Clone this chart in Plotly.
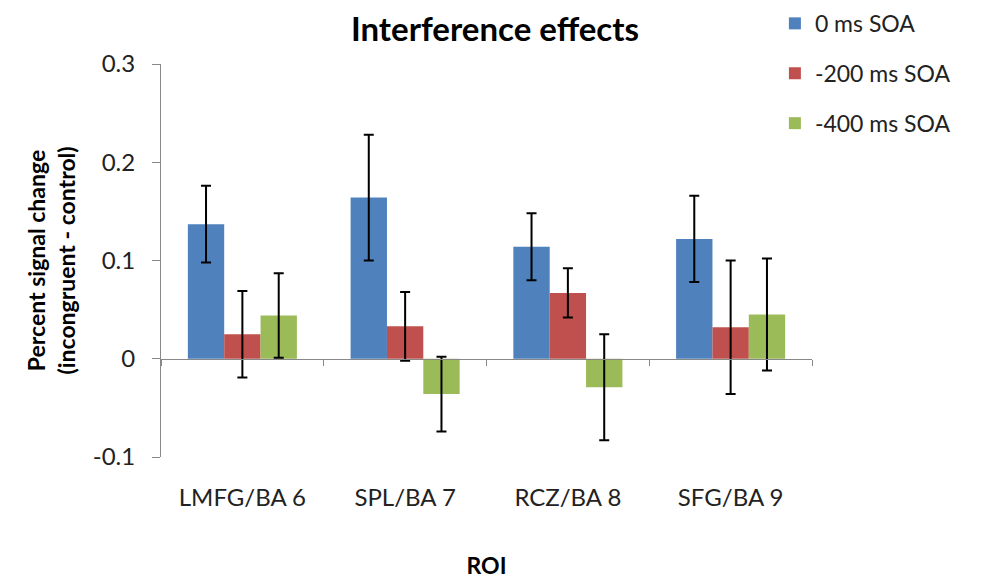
import plotly.graph_objects as go

rois = ["LMFG/BA 6", "SPL/BA 7", "RCZ/BA 8", "SFG/BA 9"]

soa_0 = [0.137, 0.164, 0.114, 0.122]
soa_0_err = [0.039, 0.064, 0.034, 0.044]

soa_200 = [0.025, 0.033, 0.067, 0.032]
soa_200_err = [0.044, 0.035, 0.025, 0.068]

soa_400 = [0.044, -0.036, -0.029, 0.045]
soa_400_err = [0.043, 0.038, 0.054, 0.057]

series = [
    ("0 ms SOA", soa_0, soa_0_err, "#4F81BD"),
    ("-200 ms SOA", soa_200, soa_200_err, "#C0504D"),
    ("-400 ms SOA", soa_400, soa_400_err, "#9BBB59"),
]

FONT = "Lato, 'Open Sans', sans-serif"

fig = go.Figure()
for name, vals, errs, color in series:
    fig.add_trace(go.Bar(
        name=name,
        x=rois,
        y=vals,
        marker_color=color,
        marker_line_width=0,
        legendgroup=name,
        error_y=dict(type="data", array=errs, color="black", thickness=2, width=5),
    ))

# the page body has an 8px margin, so the figure is sized to fit the window
fig.update_layout(
    width=974,
    height=573,
    barmode="group",
    bargap=0.33,
    bargroupgap=0,
    plot_bgcolor="white",
    paper_bgcolor="white",
    font=dict(family=FONT, color="#222"),
    margin=dict(l=153, r=170, t=56, b=124, autoexpand=False),
    title=dict(text="<b>Interference effects</b>", x=0.5, xanchor="center",
               y=0.962, yanchor="middle", font=dict(size=33, color="black")),
    legend=dict(x=0.943, xanchor="left", y=1.158, yanchor="top",
                font=dict(size=23, color="#222"), tracegroupgap=17,
                bgcolor="rgba(0,0,0,0)"),
    showlegend=True,
)

fig.update_yaxes(
    range=[-0.1, 0.3],
    tickvals=[-0.1, 0, 0.1, 0.2, 0.3],
    ticktext=["-0.1", "0", "0.1", "0.2", "0.3"],
    showgrid=False,
    zeroline=False,
    showline=True,
    linecolor="#888",
    linewidth=1,
    ticks="outside",
    ticklen=8,
    tickcolor="#888",
    ticklabelstandoff=12,
    automargin=False,
    tickfont=dict(size=24, color="#222"),
    title=dict(text="<b>Percent signal change<br>(incongruent - control)</b>",
               font=dict(size=23, color="black"), standoff=10),
)

fig.update_xaxes(
    anchor="free",
    position=0.25,
    showgrid=False,
    showline=True,
    linecolor="#888",
    linewidth=1,
    ticks="outside",
    tickson="boundaries",
    ticklen=6,
    tickcolor="#888",
    ticklabelstandoff=117,
    automargin=False,
    tickfont=dict(size=24, color="#222"),
    title=dict(text="<b>ROI</b>", font=dict(size=23, color="black"), standoff=48),
)

fig.write_html("out.html")
